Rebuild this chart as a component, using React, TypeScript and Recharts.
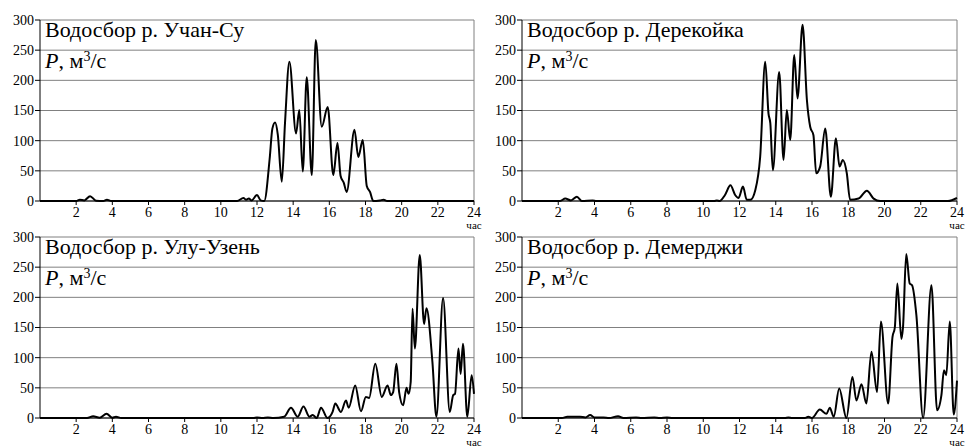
import { LineChart, Line, XAxis, YAxis, CartesianGrid, ReferenceLine } from 'recharts';

const hourTicks = [2, 4, 6, 8, 10, 12, 14, 16, 18, 20, 22, 24];
const flowTicks = [0, 50, 100, 150, 200, 250, 300];

// Водосбор р. Учан-Су
const uchanHours = [0, 2.0, 2.2, 2.45, 2.77, 3.1, 3.5, 3.7, 3.95, 10.9, 11.25, 11.4, 11.55, 11.7, 12.0, 12.2, 12.4, 12.7, 12.85, 13.0, 13.15, 13.37, 13.55, 13.79, 14.16, 14.34, 14.53, 14.75, 15.03, 15.25, 15.58, 15.91, 16.22, 16.45, 16.62, 16.8, 16.96, 17.39, 17.6, 17.85, 18.07, 18.25, 18.43, 18.8, 19.0, 19.2, 24];
const uchanFlow = [0, 0, 2, 1, 8, 0.5, 0, 2, 0, 0, 5, 2, 4, 1, 10, 1, 0, 70, 120, 130, 110, 32, 130, 231, 112, 151, 49, 205, 43, 267, 123, 156, 43, 96, 42, 30, 15, 118, 73, 101, 25, 15, 0, 1, 2, 0, 0];

// Водосбор р. Дерекойка
const derekHours = [0, 2.1, 2.39, 2.7, 3.03, 3.3, 3.9, 4.1, 10.6, 10.75, 10.9, 11.2, 11.5, 11.76, 11.95, 12.19, 12.4, 12.6, 12.87, 13.14, 13.42, 13.6, 13.7, 13.84, 14.19, 14.43, 14.61, 14.8, 15.02, 15.2, 15.48, 15.72, 15.9, 16.08, 16.23, 16.45, 16.73, 17.04, 17.32, 17.52, 17.7, 17.92, 18.1, 18.57, 19.03, 19.4, 19.76, 23.5, 24];
const derekFlow = [0, 0, 4, 1, 7, 0, 1, 0, 0, 1, 0, 10, 26, 10, 5, 24, 2, 2, 18, 73, 231, 145, 129, 51, 214, 68, 151, 101, 242, 170, 292, 167, 123, 109, 46, 57, 120, 7, 104, 57, 68, 46, 2, 4, 17, 4, 0, 0, 5];

// Водосбор р. Улу-Узень
const uluHours = [0, 2.6, 2.94, 3.3, 3.68, 4.0, 4.2, 4.5, 11.8, 12.0, 12.3, 12.6, 12.9, 13.5, 13.88, 14.25, 14.57, 14.9, 15.08, 15.3, 15.54, 15.9, 16.18, 16.33, 16.64, 16.92, 17.07, 17.43, 17.75, 18.02, 18.2, 18.54, 18.9, 19.22, 19.4, 19.53, 19.71, 19.86, 20.08, 20.27, 20.38, 20.5, 20.6, 20.73, 21.0, 21.24, 21.37, 21.7, 21.92, 22.29, 22.66, 22.85, 22.95, 23.14, 23.26, 23.39, 23.63, 23.87, 24];
const uluFlow = [0, 0, 3, 0.5, 7, 0.5, 2, 0, 0, 1, 0, 1, 0, 2, 17, 2, 19, 2, 5, 0, 17, 0, 10, 24, 10, 29, 17, 54, 11, 35, 33, 90, 35, 54, 38, 43, 90, 43, 21, 50, 40, 60, 181, 115, 270, 156, 182, 93, 2, 199, 10, 38, 40, 115, 73, 123, 2, 71, 40];

// Водосбор р. Демерджи
const demerHours = [0, 2.2, 2.5, 3.2, 3.5, 3.76, 4.0, 4.5, 4.8, 5.3, 5.6, 6.3, 6.6, 7.3, 7.6, 8.0, 8.3, 14.5, 14.7, 14.9, 15.6, 15.8, 16.0, 16.43, 16.8, 16.98, 17.2, 17.5, 17.9, 18.23, 18.45, 18.73, 19.0, 19.28, 19.59, 19.8, 20.2, 20.44, 20.57, 20.71, 20.93, 21.02, 21.2, 21.39, 21.52, 21.76, 22.13, 22.59, 22.9, 23.14, 23.28, 23.41, 23.6, 23.82, 24];
const demerFlow = [0, 0, 2, 2, 1, 5, 1, 1, 0, 3, 0, 1, 0, 1, 0, 1, 0, 0, 1, 0, 0, 2, 0, 14, 7, 17, 2, 49, 0, 68, 29, 56, 24, 110, 43, 160, 24, 134, 150, 223, 131, 150, 272, 223, 220, 170, 0, 220, 13, 38, 79, 71, 160, 6, 62];

const FONT = 'Liberation Serif, DejaVu Serif, serif';
const tickStyle = { fontFamily: FONT, fontSize: 14, fill: '#000' };

type PanelProps = {
    left: number,
    top: number,
    width: number,
    title: string,
    hours: number[],
    flow: number[],
}

const Panel = ({ left, top, width, title, hours, flow }: PanelProps) => {
    const data = hours.map((h, i) => ({ h, p: flow[i] }));
    const plotRight = left + width - 9;

    return <>
        <div style={{ position: 'absolute', left, top }}>
            <LineChart
                width={width}
                height={232}
                data={data}
                margin={{ top: 20, right: 9, left: 0, bottom: 0 }}
                style={{ fontFamily: FONT }}
            >
                <CartesianGrid horizontal vertical={false} stroke="#808080" strokeWidth={1} />
                <XAxis
                    dataKey="h"
                    type="number"
                    domain={[0, 24]}
                    ticks={hourTicks}
                    interval={0}
                    height={31}
                    tick={tickStyle}
                    tickSize={4}
                    tickMargin={2}
                    stroke="#000"
                />
                <YAxis
                    type="number"
                    domain={[0, 300]}
                    ticks={flowTicks}
                    interval={0}
                    width={40}
                    tick={tickStyle}
                    tickSize={5}
                    tickMargin={1}
                    stroke="#000"
                />
                <ReferenceLine x={24} stroke="#808080" />
                <Line
                    dataKey="p"
                    type="monotone"
                    stroke="#000"
                    strokeWidth={2}
                    dot={false}
                    isAnimationActive={false}
                />
            </LineChart>
        </div>
        <div style={{ position: 'absolute', left: left + 45, top: top + 19, fontFamily: FONT, fontSize: 22, lineHeight: '22px', whiteSpace: 'nowrap' }}>
            {title}
        </div>
        <div style={{ position: 'absolute', left: left + 45, top: top + 50, fontFamily: FONT, fontSize: 22, lineHeight: '22px', whiteSpace: 'nowrap' }}>
            <i>P</i>, м<sup style={{ fontSize: 14, verticalAlign: 'top', lineHeight: '14px' }}>3</sup>/с
        </div>
        <div style={{ position: 'absolute', left: plotRight - 12, top: top + 220, width: 24, textAlign: 'center', fontFamily: FONT, fontSize: 11, lineHeight: '11px' }}>
            час
        </div>
    </>
}

export default function App() {
    return <div style={{ position: 'absolute', left: 0, top: 0, width: 966, height: 447, background: '#fff', overflow: 'hidden', fontFamily: FONT }}>
        <Panel left={0} top={0} width={483} title="Водосбор р. Учан-Су" hours={uchanHours} flow={uchanFlow} />
        <Panel left={482} top={0} width={484} title="Водосбор р. Дерекойка" hours={derekHours} flow={derekFlow} />
        <Panel left={0} top={217} width={483} title="Водосбор р. Улу-Узень" hours={uluHours} flow={uluFlow} />
        <Panel left={482} top={217} width={484} title="Водосбор р. Демерджи" hours={demerHours} flow={demerFlow} />
    </div>
}
